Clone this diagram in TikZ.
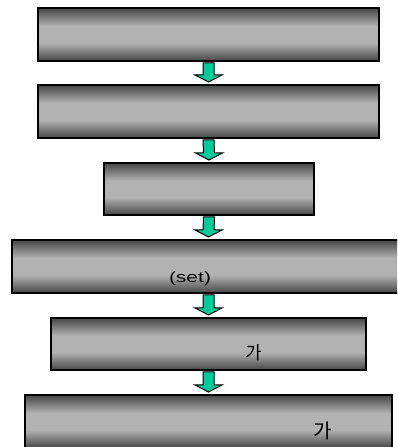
\documentclass[tikz,border=0pt]{standalone}
\usepackage{fontspec}
\setmainfont{Liberation Sans}
\newfontfamily\krfont{Noto Sans CJK KR}
\usetikzlibrary{calc}

\definecolor{boxedge}{RGB}{70,70,70}
\definecolor{boxmid}{RGB}{178,178,178}
\definecolor{arrowfill}{RGB}{0,204,153}

% dark bands top and bottom, light band in the middle
\pgfdeclareverticalshading{barshade}{100bp}{%
  color(0bp)=(boxedge); color(25bp)=(boxedge);
  color(42bp)=(boxmid); color(58bp)=(boxmid);
  color(75bp)=(boxedge); color(100bp)=(boxedge)}

\tikzset{
  bar/.style={draw=black, line width=1.6pt, shading=barshade,
    inner sep=0pt, outer sep=0pt},
  flowarrow/.style={draw=black, line width=1pt, fill=arrowfill, line join=miter},
  label/.style={inner sep=0pt, text=black}
}

% block arrow from the bottom of #1 down to the top of #2
\newcommand\blockarrow[2]{%
  \draw[flowarrow]
    ($(#1.south)+(-5.5,-2)$) -- ($(#1.south)+(5.5,-2)$) --
    ($(#2.north)+(5.5,10)$) -- ($(#2.north)+(13.5,10)$) --
    ($(#2.north)+(0,3)$) --
    ($(#2.north)+(-13.5,10)$) -- ($(#2.north)+(-5.5,10)$) -- cycle;}

\begin{document}
\begin{tikzpicture}[x=1pt, y=1pt]
  \useasboundingbox (0,0) rectangle (397,447);
  \clip (0,0) rectangle (397,447);
  \fill[white] (0,0) rectangle (397,447);

  \node[bar, minimum width=341pt, minimum height=53pt] (b1) at (208.5,412.5) {};
  \node[bar, minimum width=341pt, minimum height=53pt] (b2) at (208.5,335.5) {};
  \node[bar, minimum width=210pt, minimum height=52pt] (b3) at (209,258) {};
  \node[bar, minimum width=393pt, minimum height=53pt] (b4) at (208.5,180.5) {};
  \node[bar, minimum width=315pt, minimum height=52pt] (b5) at (208.5,103) {};
  \node[bar, minimum width=367pt, minimum height=53pt] (b6) at (208.5,25.5) {};

  \blockarrow{b1}{b2}
  \blockarrow{b2}{b3}
  \blockarrow{b3}{b4}
  \blockarrow{b4}{b5}
  \blockarrow{b5}{b6}

  \node[label, font=\fontsize{15}{15}\selectfont] (t4) at (190,168)
    {\scalebox{1.4}[1]{(set)}};
  \node[label, font=\fontsize{18}{18}\selectfont\krfont] (t5) at (254,94) {가};
  \node[label, font=\fontsize{20}{20}\selectfont\krfont] (t6) at (323,16) {가};
\end{tikzpicture}
\end{document}
